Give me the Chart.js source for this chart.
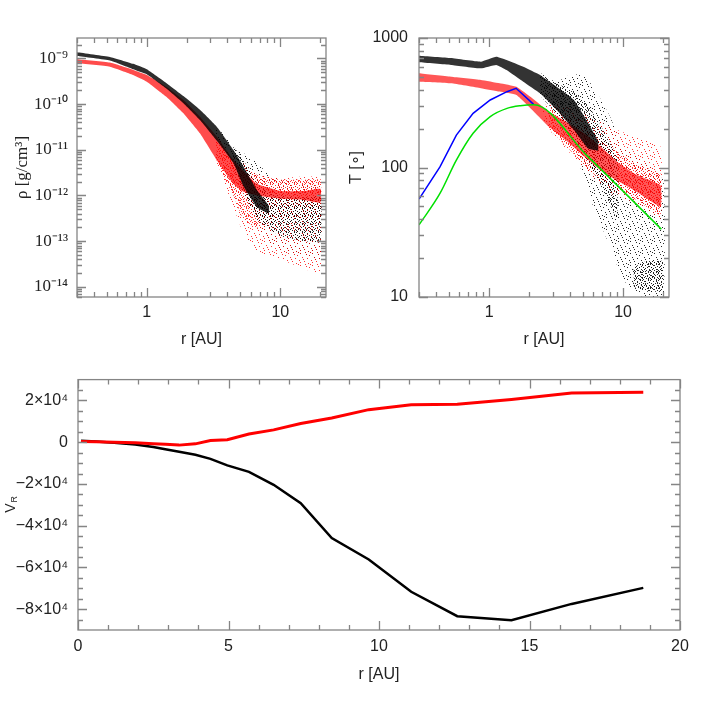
<!DOCTYPE html>
<html>
<head>
<meta charset="utf-8">
<script src="https://cdn.jsdelivr.net/npm/chart.js@4.4.1/dist/chart.umd.min.js"></script>
<style>
  body { margin: 0; background: #fff; }
  canvas { position: absolute; }
</style>
</head>
<body>
<canvas id="rhoChart" width="340" height="360" style="left:0;top:0"></canvas>
<canvas id="tempChart" width="376" height="360" style="left:330px;top:0"></canvas>
<canvas id="velChart" width="706" height="346" style="left:0;top:360px"></canvas>
<script>
// ---- density panel: particle clouds read as envelopes (r [AU], rho [g/cm3])
const rhoBlackCoreR  = [0.3, 0.53, 0.79, 1.0, 1.4, 1.88, 2.5, 3.34, 4.45, 5.3, 6.7, 8.2];
const rhoBlackCoreHi = [1.37e-9, 1.08e-9, 7.6e-10, 5.8e-10, 2.9e-10, 1.5e-10, 7.5e-11, 3.2e-11, 1.0e-11, 4.3e-12, 1.3e-12, 6e-13];
const rhoBlackCoreLo = [1.13e-9, 9.0e-10, 5.8e-10, 4.5e-10, 2.2e-10, 1.05e-10, 4.5e-11, 1.6e-11, 5.2e-12, 1.6e-12, 5.5e-13, 4e-13];
const rhoBlackMidR   = [4.45, 5.3, 6.7, 8, 10, 15, 20];
const rhoBlackMidHi  = [1.2e-11, 6e-12, 1.8e-12, 1.2e-12, 1.0e-12, 9e-13, 1.0e-12];
const rhoBlackMidLo  = [4e-12, 1.2e-12, 3e-13, 2e-13, 1.3e-13, 1.0e-13, 1.0e-13];
const rhoBlackHaloR  = [3.3, 4.45, 5.3, 6.7, 8, 10, 15, 20];
const rhoBlackHaloHi = [3.4e-11, 1.2e-11, 8.5e-12, 5.2e-12, 3.1e-12, 2.2e-12, 1.9e-12, 1.5e-12];
const rhoBlackHaloLo = [1.5e-11, 4e-12, 1.3e-12, 2.1e-13, 1.0e-13, 6.3e-14, 4.5e-14, 3.9e-14];
const rhoRedCoreR    = [0.3, 0.53, 0.79, 1.0, 1.4, 1.88, 2.5, 3.34, 4.45, 5.3, 6.7, 10, 15, 20];
const rhoRedCoreHi   = [9.6e-10, 8.1e-10, 5.6e-10, 4.35e-10, 2.4e-10, 1.23e-10, 5.3e-11, 1.95e-11, 6e-12, 3.5e-12, 1.8e-12, 1.25e-12, 1.25e-12, 1.4e-12];
const rhoRedCoreLo   = [7.8e-10, 6.6e-10, 4.35e-10, 3.1e-10, 1.45e-10, 6.3e-11, 2.3e-11, 6e-12, 1.8e-12, 1.2e-12, 1e-12, 8.5e-13, 8e-13, 7e-13];
const rhoRedMidR     = [3.34, 4.45, 5.3, 6.7, 10, 15, 20];
const rhoRedMidHi    = [1.5e-11, 6e-12, 4.5e-12, 2.8e-12, 2.2e-12, 2.2e-12, 2.2e-12];
const rhoRedMidLo    = [5e-12, 1e-12, 3e-13, 2e-13, 3e-13, 3e-13, 2.5e-13];
const rhoRedHaloR    = [3.3, 4.45, 5.3, 6.7, 10, 15, 20];
const rhoRedHaloHi   = [2e-11, 7e-12, 5e-12, 3e-12, 2.4e-12, 2.6e-12, 2.4e-12];
const rhoRedHaloLo   = [5e-12, 5.7e-13, 1.5e-13, 6e-14, 4e-14, 2.5e-14, 2e-14];

// ---- temperature panel (r [AU], T)
const tempBlackCoreR  = [0.3, 0.52, 0.87, 1.13, 1.35, 1.8, 2.4, 3.2, 4.3, 5.5, 6.5];
const tempBlackCoreHi = [730, 700, 656, 715, 676, 600, 518, 420, 332, 220, 160];
const tempBlackCoreLo = [650, 620, 583, 620, 566, 460, 374, 278, 195, 140, 135];
const tempBlackMidR   = [2.4, 3.2, 4.3, 5.5, 7, 9];
const tempBlackMidHi  = [540, 450, 380, 300, 200, 120];
const tempBlackMidLo  = [360, 260, 170, 110, 70, 40];
const tempBlackHaloR  = [3.0, 4.0, 5.0, 6.0, 8.0, 10, 14, 20];
const tempBlackHaloHi = [440, 518, 518, 420, 247, 145, 114, 80];
const tempBlackHaloLo = [290, 163, 90, 50, 24.5, 13.6, 10, 10];
const tempBlackClumpR  = [12, 15, 18, 20];
const tempBlackClumpHi = [17, 19, 19, 19];
const tempBlackClumpLo = [12, 11, 11, 11];
const tempRedCoreR  = [0.3, 0.52, 0.87, 1.2, 1.6, 2.1, 2.8, 3.8, 5.1, 6.8, 9.3, 12.6, 19];
const tempRedCoreHi = [534, 502, 474, 447, 420, 343, 270, 225, 185, 145, 108, 88, 73];
const tempRedCoreLo = [460, 447, 410, 386, 363, 278, 206, 160, 122, 95, 78, 65, 50];
const tempRedMidR   = [2.8, 3.8, 5.1, 6.8, 9.3, 12.6, 19];
const tempRedMidHi  = [280, 250, 215, 170, 130, 105, 90];
const tempRedMidLo  = [200, 145, 105, 80, 66, 56, 43];
const tempRedHaloR  = [2.5, 3.0, 5.0, 8.0, 12, 19];
const tempRedHaloHi = [300, 313, 263, 206, 173, 145];
const tempRedHaloLo = [240, 180, 102, 63, 54, 40];
const tempBlueR  = [0.3, 0.43, 0.57, 0.76, 1.02, 1.36, 1.59, 2.15];
const tempBlueT  = [57, 101, 178, 262, 332, 385, 409, 307];
const tempGreenR = [0.3, 0.43, 0.57, 0.76, 1.02, 1.36, 1.71, 2.15, 5.4, 19.3];
const tempGreenT = [36, 63, 114, 184, 247, 286, 300, 305, 123, 33.4];

// ---- radial velocity panel
const velR     = [0.1, 0.6, 1.2, 1.9, 2.5, 2.9, 3.36, 3.9, 4.4, 4.96, 5.68, 6.5, 7.4, 8.43, 9.66, 11.07, 12.6, 14.4, 16.4, 18.78];
const velBlack = [700, 300, -300, -1100, -2300, -3400, -4600, -6000, -8000, -11100, -14200, -20400, -29200, -45900, -56200, -71700, -83400, -85300, -77500, -69800];
const velRed   = [300, 200, 0, -300, -700, -1000, -1400, -800, 800, 1200, 3900, 5900, 9000, 11600, 15600, 17900, 18200, 20500, 23600, 23900];

// ---- ticks
const logXMajor  = [1, 10];
const logXLabels = ['1', '10'];
const logXMinor  = [0.3, 0.4, 0.5, 0.6, 0.7, 0.8, 0.9, 2, 3, 4, 5, 6, 7, 8, 9, 20];
const rhoMajor   = [1e-14, 1e-13, 1e-12, 1e-11, 1e-10, 1e-9];
const rhoLabels  = ['10⁻¹⁴', '10⁻¹³', '10⁻¹²', '10⁻¹¹', '10⁻¹⁰', '10⁻⁹'];
const tempMajor  = [10, 100, 1000];
const tempLabels = ['10', '100', '1000'];
const velXMajor  = [0, 5, 10, 15, 20];
const velXLabels = ['0', '5', '10', '15', '20'];
const velYMajor  = [-80000, -60000, -40000, -20000, 0, 20000];
const velYLabels = ['−8×10⁴', '−6×10⁴', '−4×10⁴', '−2×10⁴', '0', '2×10⁴'];

const decadeMinors = (e0, e1) => {
  const out = [];
  for (let e = e0; e <= e1; e++) for (let m = 2; m <= 9; m++) out.push(m * Math.pow(10, e));
  return out;
};
const rhoMinor  = decadeMinors(-15, -9);
const tempMinor = decadeMinors(1, 2);
const velXMinor = [1, 2, 3, 4, 6, 7, 8, 9, 11, 12, 13, 14, 16, 17, 18, 19];
const velYMinor = [-85000, -75000, -70000, -65000, -55000, -50000, -45000, -35000, -30000, -25000,
                   -15000, -10000, -5000, 5000, 10000, 15000, 25000];

Chart.defaults.font.family = "'Liberation Sans', Arial, sans-serif";
Chart.defaults.color = '#222';

// speckle fills so the sparse parts of the clouds read as scattered dots
const sparseTile = [[0,1],[5,0],[9,3],[2,5],[7,6],[11,8],[4,9],[0,10],[8,11],[6,2],[3,7],[10,0]];
const mediumTile = [[0,0],[3,1],[6,0],[1,3],[5,3],[7,2],[2,5],[4,6],[7,5],[0,6],[6,7],[3,4],[1,7]];
function speckle(color, dots, size) {
  const c = document.createElement('canvas');
  c.width = size; c.height = size;
  const g = c.getContext('2d');
  g.fillStyle = color;
  dots.forEach(d => g.fillRect(d[0], d[1], 1, 1));
  return g.createPattern(c, 'repeat');
}

// inward ticks on all four sides plus the grey frame
const frameTicks = {
  id: 'frameTicks',
  afterDatasetsDraw(chart, args, o) {
    const {ctx, chartArea: a} = chart;
    const xs = chart.scales.x, ys = chart.scales.y;
    ctx.save();
    ctx.strokeStyle = '#858585';
    ctx.lineWidth = 1.3;
    ctx.beginPath();
    const xt = (vals, len) => vals.filter(v => v >= xs.min && v <= xs.max).forEach(v => {
      const p = Math.round(xs.getPixelForValue(v)) + 0.5;
      ctx.moveTo(p, a.bottom); ctx.lineTo(p, a.bottom - len);
      ctx.moveTo(p, a.top); ctx.lineTo(p, a.top + len);
    });
    const yt = (vals, len) => vals.filter(v => v >= ys.min && v <= ys.max).forEach(v => {
      const p = Math.round(ys.getPixelForValue(v)) + 0.5;
      ctx.moveTo(a.left, p); ctx.lineTo(a.left + len, p);
      ctx.moveTo(a.right, p); ctx.lineTo(a.right - len, p);
    });
    xt(o.xMajor, 9); xt(o.xMinor, 5);
    yt(o.yMajor, 9); yt(o.yMinor, 5);
    ctx.stroke();
    ctx.strokeRect(a.left, a.top, a.right - a.left, a.bottom - a.top);
    ctx.restore();
  }
};

function band(r, hi, lo) {
  const pts = r.map((v, i) => ({x: v, y: hi[i]}));
  for (let i = r.length - 1; i >= 0; i--) pts.push({x: r[i], y: lo[i]});
  return pts;
}
function cloud(r, hi, lo, fillStyle) {
  return {data: band(r, hi, lo), fill: 'shape', backgroundColor: fillStyle,
          borderWidth: 0, pointRadius: 0, tension: 0.12};
}
const line = (r, v, color, width, extra) => Object.assign({
  data: r.map((x, i) => ({x: x, y: v[i]})), borderColor: color, borderWidth: width,
  pointRadius: 0, fill: false, tension: 0
}, extra || {});

function axis(type, min, max, major, labels, size, pad, fontOpt, title) {
  return {
    type, min, max,
    grid: {display: false, drawTicks: false},
    border: {display: false},
    afterBuildTicks: s => { s.ticks = major.map(v => ({value: v})); },
    afterFit: s => { if (s.isHorizontal()) s.height = size; else s.width = size; },
    ticks: {padding: pad, autoSkip: false, maxRotation: 0, color: '#222', font: fontOpt,
            callback: v => labels[major.indexOf(v)]},
    title: title
  };
}

const base = {
  responsive: false, animation: false, devicePixelRatio: 1,
  plugins: {legend: {display: false}, tooltip: {enabled: false}}
};

const BLACK_DOT = 'rgba(0,0,0,0.85)', RED_DOT = 'rgba(255,0,0,0.8)';

// density
new Chart('rhoChart', {
  type: 'line',
  data: {datasets: [
    cloud(rhoBlackCoreR, rhoBlackCoreHi, rhoBlackCoreLo, 'rgba(0,0,0,0.82)'),
    cloud(rhoRedCoreR, rhoRedCoreHi, rhoRedCoreLo, 'rgba(255,0,0,0.7)'),
    cloud(rhoBlackMidR, rhoBlackMidHi, rhoBlackMidLo, speckle(BLACK_DOT, mediumTile, 8)),
    cloud(rhoRedMidR, rhoRedMidHi, rhoRedMidLo, speckle(RED_DOT, mediumTile, 8)),
    cloud(rhoRedHaloR, rhoRedHaloHi, rhoRedHaloLo, speckle(RED_DOT, sparseTile, 12)),
    cloud(rhoBlackHaloR, rhoBlackHaloHi, rhoBlackHaloLo, speckle(BLACK_DOT, sparseTile, 12))
  ]},
  options: Object.assign({}, base, {
    layout: {padding: {left: 0, top: 38, right: 14, bottom: 0}},
    plugins: Object.assign({}, base.plugins, {frameTicks: {xMajor: logXMajor, xMinor: logXMinor, yMajor: rhoMajor, yMinor: rhoMinor}}),
    scales: {
      x: axis('logarithmic', 0.3, 22, logXMajor, logXLabels, 63, 6, {size: 16},
        {display: true, text: 'r [AU]', color: '#222', font: {size: 16}, padding: {top: 0, bottom: 11}}),
      y: axis('logarithmic', 6e-15, 2.8e-9, rhoMajor, rhoLabels, 77, 9, {family: "'Liberation Serif', serif", size: 17},
        {display: true, text: 'ρ [g/cm³]', color: '#222', font: {family: "'Liberation Serif', serif", size: 17}, padding: {top: 12, bottom: 0}})
    }
  }),
  plugins: [frameTicks]
});

// temperature
new Chart('tempChart', {
  type: 'line',
  data: {datasets: [
    line(tempGreenR, tempGreenT, '#00e000', 1.5, {cubicInterpolationMode: 'monotone'}),
    line(tempBlueR, tempBlueT, '#0000ff', 1.5),
    cloud(tempBlackCoreR, tempBlackCoreHi, tempBlackCoreLo, 'rgba(0,0,0,0.8)'),
    cloud(tempRedCoreR, tempRedCoreHi, tempRedCoreLo, 'rgba(255,0,0,0.66)'),
    cloud(tempBlackMidR, tempBlackMidHi, tempBlackMidLo, speckle(BLACK_DOT, mediumTile, 8)),
    cloud(tempRedMidR, tempRedMidHi, tempRedMidLo, speckle(RED_DOT, mediumTile, 8)),
    cloud(tempBlackClumpR, tempBlackClumpHi, tempBlackClumpLo, speckle(BLACK_DOT, mediumTile, 8)),
    cloud(tempRedHaloR, tempRedHaloHi, tempRedHaloLo, speckle(RED_DOT, sparseTile, 12)),
    cloud(tempBlackHaloR, tempBlackHaloHi, tempBlackHaloLo, speckle(BLACK_DOT, sparseTile, 12))
  ]},
  options: Object.assign({}, base, {
    layout: {padding: {left: 0, top: 38, right: 37, bottom: 0}},
    plugins: Object.assign({}, base.plugins, {frameTicks: {xMajor: logXMajor, xMinor: logXMinor, yMajor: tempMajor, yMinor: tempMinor}}),
    scales: {
      x: axis('logarithmic', 0.3, 22, logXMajor, logXLabels, 63, 6, {size: 16},
        {display: true, text: 'r [AU]', color: '#222', font: {size: 16}, padding: {top: 0, bottom: 11}}),
      y: axis('logarithmic', 10, 1000, tempMajor, tempLabels, 89, 11, {size: 16},
        {display: true, text: 'T [∘]', color: '#222', font: {size: 16}, padding: {top: 17, bottom: 0}})
    }
  }),
  plugins: [frameTicks]
});

// velocity; the V_R title is drawn by hand for the subscript
const vrTitle = {
  id: 'vrTitle',
  afterDraw(chart) {
    const {ctx, chartArea: a} = chart;
    ctx.save();
    ctx.translate(11, (a.top + a.bottom) / 2 + 8);
    ctx.rotate(-Math.PI / 2);
    ctx.fillStyle = '#222';
    ctx.textBaseline = 'middle';
    ctx.font = "14px 'Liberation Sans', sans-serif";
    ctx.fillText('V', 0, 0);
    const w = ctx.measureText('V').width;
    ctx.font = "9px 'Liberation Sans', sans-serif";
    ctx.fillText('R', w + 1, 4);
    ctx.restore();
  }
};

new Chart('velChart', {
  type: 'line',
  data: {datasets: [
    line(velR, velRed, '#ff0000', 3),
    line(velR, velBlack, '#000000', 2.5)
  ]},
  options: Object.assign({}, base, {
    layout: {padding: {left: 0, top: 12, right: 26, bottom: 0}},
    plugins: Object.assign({}, base.plugins, {frameTicks: {xMajor: velXMajor, xMinor: velXMinor, yMajor: velYMajor, yMinor: velYMinor}}),
    scales: {
      x: axis('linear', 0, 20, velXMajor, velXLabels, 76, 7, {size: 16},
        {display: true, text: 'r [AU]', color: '#222', font: {size: 16}, padding: {top: 0, bottom: 22}}),
      y: axis('linear', -90000, 30000, velYMajor, velYLabels, 78, 10, {size: 16},
        {display: false})
    }
  }),
  plugins: [frameTicks, vrTitle]
});
</script>
</body>
</html>
